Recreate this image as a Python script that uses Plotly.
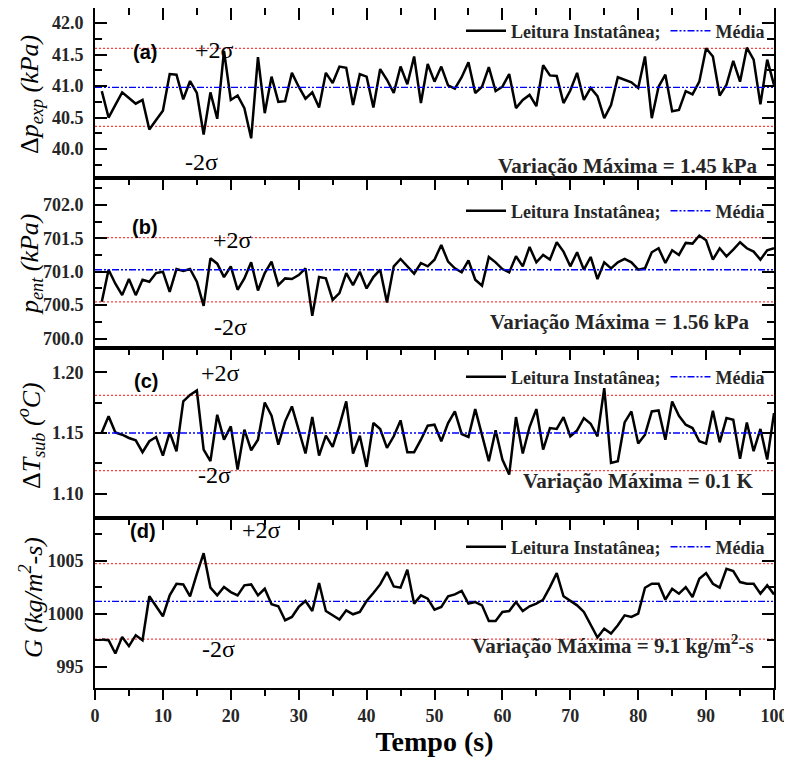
import plotly.graph_objects as go

# ---------------- data ----------------
tempo = list(range(1, 101))

dp_exp = [40.92, 40.50, 40.70, 40.90, 40.81, 40.72, 40.78, 40.31, 40.46, 40.61,
          41.19, 41.18, 40.79, 41.08, 40.89, 40.23, 40.90, 40.48, 41.56, 40.78,
          40.85, 40.65, 40.17, 41.46, 40.57, 41.15, 40.75, 40.76, 41.21, 40.99,
          40.80, 40.90, 40.66, 41.21, 41.05, 41.31, 41.29, 40.70, 41.19, 41.15,
          40.66, 41.27, 41.10, 40.89, 41.31, 41.03, 41.47, 40.73, 41.35, 41.07,
          41.31, 41.01, 40.96, 41.14, 41.38, 40.89, 40.99, 41.30, 40.92, 40.99,
          41.19, 40.65, 40.78, 40.86, 40.68, 41.33, 41.17, 41.16, 40.73, 40.93,
          41.21, 40.78, 40.97, 40.84, 40.49, 40.70, 41.14, 41.10, 41.06, 40.97,
          41.47, 40.49, 40.99, 41.18, 40.60, 40.62, 40.92, 40.87, 41.07, 41.60,
          41.47, 40.85, 41.02, 41.40, 41.07, 41.61, 41.42, 40.71, 41.42, 41.02]

p_ent = [700.55, 701.03, 700.82, 700.65, 700.89, 700.65, 700.88, 700.85, 700.98, 701.00,
         700.70, 701.04, 701.01, 701.04, 700.85, 700.49, 701.20, 701.12, 700.92, 701.08,
         700.73, 700.90, 701.14, 700.72, 700.98, 701.15, 700.80, 700.90, 700.89, 700.95,
         701.05, 700.34, 700.92, 700.90, 700.58, 700.68, 700.98, 700.80, 701.00, 700.75,
         700.92, 701.03, 700.54, 701.08, 701.19, 701.08, 700.97, 701.13, 701.08, 701.18,
         701.40, 701.15, 701.05, 700.99, 701.17, 700.88, 700.79, 701.22, 701.14, 701.04,
         700.99, 701.23, 701.08, 701.37, 701.14, 701.25, 701.18, 701.44, 701.30, 701.08,
         701.29, 701.03, 701.22, 700.89, 701.14, 701.05, 701.14, 701.19, 701.14, 701.03,
         701.05, 701.29, 701.35, 701.13, 701.32, 701.25, 701.43, 701.42, 701.54, 701.47,
         701.18, 701.35, 701.23, 701.33, 701.44, 701.35, 701.30, 701.18, 701.32, 701.35]

dT_sub = [1.1505, 1.1637, 1.1505, 1.1486, 1.1459, 1.1440, 1.1342, 1.1432, 1.1467, 1.1314,
          1.1505, 1.1350, 1.1760, 1.1814, 1.1850, 1.1363, 1.1268, 1.1650, 1.1445, 1.1555,
          1.1199, 1.1527, 1.1358, 1.1445, 1.1751, 1.1642, 1.1404, 1.1596, 1.1719, 1.1514,
          1.1331, 1.1631, 1.1314, 1.1478, 1.1385, 1.1560, 1.1760, 1.1331, 1.1478, 1.1221,
          1.1582, 1.1533, 1.1377, 1.1473, 1.1604, 1.1342, 1.1342, 1.1445, 1.1560, 1.1568,
          1.1432, 1.1582, 1.1678, 1.1492, 1.1467, 1.1697, 1.1486, 1.1268, 1.1522, 1.1281,
          1.1158, 1.1631, 1.1331, 1.1549, 1.1697, 1.1363, 1.1541, 1.1533, 1.1631, 1.1473,
          1.1522, 1.1623, 1.1576, 1.1473, 1.1869, 1.1254, 1.1268, 1.1587, 1.1678, 1.1413,
          1.1486, 1.1678, 1.1686, 1.1445, 1.1760, 1.1642, 1.1568, 1.1541, 1.1432, 1.1413,
          1.1683, 1.1423, 1.1623, 1.1609, 1.1287, 1.1587, 1.1350, 1.1533, 1.1281, 1.1664]

G_flux = [997.56, 997.50, 996.25, 997.81, 996.94, 997.97, 997.50, 1001.63, 1000.69, 999.75,
          1001.72, 1002.81, 1002.75, 1001.63, 1003.75, 1005.69, 1002.44, 1001.72, 1002.50, 1002.03,
          1001.72, 1002.66, 1002.75, 1001.72, 1002.34, 1000.88, 1000.69, 999.38, 999.69, 1000.63,
          1001.19, 1000.25, 1002.88, 1000.25, 999.84, 999.44, 1000.31, 999.94, 1000.16, 1001.19,
          1001.94, 1002.75, 1003.91, 1002.56, 1002.44, 1004.13, 1000.94, 1001.72, 1001.41, 1000.38,
          1000.63, 1001.63, 1001.81, 1002.13, 1000.94, 1001.09, 1000.78, 999.31, 999.31, 1000.16,
          1000.25, 1001.09, 1000.25, 1000.69, 1000.94, 1001.31, 1002.50, 1003.81, 1001.63, 1001.19,
          1000.78, 1000.16, 999.00, 997.75, 998.59, 998.13, 998.91, 999.84, 999.69, 1000.00,
          1002.44, 1002.81, 1002.81, 1001.31, 1002.34, 1001.88, 1002.50, 1001.56, 1003.28, 1003.81,
          1002.81, 1002.44, 1004.22, 1004.00, 1002.97, 1002.81, 1002.81, 1001.88, 1002.66, 1001.81]

medias = [40.98, 701.03, 1.150, 1001.15]
dois_sigma = [0.62, 0.48, 0.031, 3.55]
x_limites = [0, 100]

panel_labels = ["(a)", "(b)", "(c)", "(d)"]
variacao_textos = ["Variação Máxima = 1.45 kPa", "Variação Máxima = 1.56 kPa",
                   "Variação Máxima = 0.1 K", "Variação Máxima = 9.1 kg/m<sup>2</sup>-s"]
y_titulos = ["Δ<i>p<sub>exp</sub> (kPa)</i>", "<i>p<sub>ent</sub> (kPa)</i>",
             "Δ<i>T<sub>sub</sub> (<sup>o</sup>C)</i>", "<i>G (kg/m<sup>2</sup>-s)</i>"]
y_ranges = [[39.54, 42.24], [699.86, 702.40], [1.080, 1.220], [993.0, 1009.0]]
y_ticks = [[40.0, 40.5, 41.0, 41.5, 42.0], [700.0, 700.5, 701.0, 701.5, 702.0],
           [1.10, 1.15, 1.20], [995, 1000, 1005]]
y_fmt = [".1f", ".1f", ".2f", "d"]
y_minor = [0.25, 0.25, 0.025, 2.5]

series = [dp_exp, p_ent, dT_sub, G_flux]

# ---------------- geometry (screen px; page body adds an 8 px offset) ----------------
OFF = 8
W, H = 792 - OFF, 766 - 2 * OFF
L, R, T, B = 95, 774, 8, 688          # plot area on screen
domains = [[0.75, 1.0], [0.5, 0.75], [0.25, 0.5], [0.0, 0.25]]

def px(xs):
    return (xs - L) / (R - L)

def py(ys):
    return (B - ys) / (B - T)

serif = "Liberation Serif"
ink = "#262626"
fig = go.Figure()

for i in range(4):
    n = "" if i == 0 else str(i + 1)
    xa, ya = "x" + n, "y" + n
    leg = "legend" + n
    m, s2 = medias[i], dois_sigma[i]
    for lvl in (m + s2, m - s2):
        fig.add_trace(go.Scatter(x=x_limites, y=[lvl, lvl], mode="lines",
                                 line=dict(color="rgba(255,40,40,0.9)", width=1.3, dash="2px,2px"),
                                 showlegend=False, hoverinfo="skip", xaxis=xa, yaxis=ya))
    data_x = "x5" if i == 3 else xa
    fig.add_trace(go.Scatter(x=tempo, y=series[i], mode="lines",
                             line=dict(color="black", width=2.5),
                             name="Leitura Instatânea;", legend=leg,
                             xaxis=data_x, yaxis=ya))
    fig.add_trace(go.Scatter(x=x_limites, y=[m, m], mode="lines",
                             line=dict(color="#0000ff", width=1.4, dash="7px,2px,2px,2px,2px,2px"),
                             name="Média", legend=leg, xaxis=xa, yaxis=ya))

layout = dict(
    width=W, height=H,
    margin=dict(l=L - OFF, r=W - (R - OFF), t=T - OFF, b=H - (B - OFF)),
    plot_bgcolor="white", paper_bgcolor="white",
    showlegend=True,
)

legend_centers = [31, 211, 377, 547]
for i in range(4):
    n = "" if i == 0 else str(i + 1)
    layout["xaxis" + n] = dict(
        domain=[0, 1], anchor="y" + n, range=x_limites, side="top",
        showline=True, linecolor="black", linewidth=2, mirror=True,
        ticks="inside", ticklen=12, tickwidth=2, tickcolor="black",
        dtick=10, tick0=0, showticklabels=False, showgrid=False, zeroline=False,
        minor=dict(ticks="inside", ticklen=7, dtick=5, tickwidth=2, tickcolor="black", showgrid=False),
    )
    layout["yaxis" + n] = dict(
        domain=domains[i], anchor="x" + n, range=y_ranges[i],
        showline=True, linecolor="black", linewidth=2, mirror="ticks",
        ticks="inside", ticklen=12, tickwidth=2, tickcolor="black",
        tickvals=y_ticks[i], tickformat=y_fmt[i], ticklabelstandoff=6,
        tickfont=dict(family=serif, size=18, weight="bold", color=ink),
        showgrid=False, zeroline=False,
        minor=dict(ticks="inside", ticklen=7, dtick=y_minor[i], tickwidth=2,
                   tickcolor="black", showgrid=False),
    )
    layout["legend" + n] = dict(
        x=px(770), xanchor="right", y=py(legend_centers[i]), yanchor="middle",
        orientation="h", bgcolor="rgba(0,0,0,0)", borderwidth=0,
        font=dict(family=serif, size=18, weight="bold", color=ink),
        itemwidth=40, tracegroupgap=0,
    )

layout["xaxis5"] = dict(
    overlaying="x4", anchor="y4", side="bottom", range=x_limites,
    showline=True, linecolor="black", linewidth=2,
    ticks="outside", ticklen=10, tickwidth=2, tickcolor="black",
    dtick=10, tick0=0, showgrid=False, zeroline=False, automargin=False,
    tickfont=dict(family=serif, size=18, weight="bold", color=ink),
    minor=dict(ticks="outside", ticklen=6, dtick=5, tickwidth=2, tickcolor="black", showgrid=False),
    title=dict(text="Tempo (s)", standoff=6,
               font=dict(family=serif, size=28, weight="bold", color="black")),
)

annots = []
label_pos = [(131, 39), (130, 214), (132, 381), (128, 544)]
plus_pos = [(193, 35), (211, 225), (199, 373), (240, 545)]
minus_pos = [(183, 147), (212, 327), (196, 490), (200, 664)]
var_pos = [(760, 152), (752, 322), (756, 495), (756, 660)]
title_y = [95, 265, 436, 598]
for i in range(4):
    annots.append(dict(text=panel_labels[i], x=px(label_pos[i][0]), y=py(label_pos[i][1]),
                       xref="paper", yref="paper", showarrow=False,
                       font=dict(family="Liberation Sans", size=20, weight="bold", color="black")))
    annots.append(dict(text="+2σ", x=px(plus_pos[i][0]), y=py(plus_pos[i][1]),
                       xref="paper", yref="paper", showarrow=False,
                       font=dict(family=serif, size=24, color="black")))
    annots.append(dict(text="-2σ", x=px(minus_pos[i][0]), y=py(minus_pos[i][1]),
                       xref="paper", yref="paper", showarrow=False,
                       font=dict(family=serif, size=24, color="black")))
    annots.append(dict(text=variacao_textos[i], x=px(var_pos[i][0]), y=py(var_pos[i][1]),
                       xref="paper", yref="paper", showarrow=False, xanchor="right",
                       font=dict(family=serif, size=21, weight="bold", color=ink)))
    annots.append(dict(text=y_titulos[i], x=px(31), y=py(title_y[i]),
                       xref="paper", yref="paper", showarrow=False, textangle=-90,
                       xanchor="center", yanchor="middle",
                       font=dict(family=serif, size=26, color="black")))
layout["annotations"] = annots

fig.update_layout(**layout)
fig.write_html("out.html")
